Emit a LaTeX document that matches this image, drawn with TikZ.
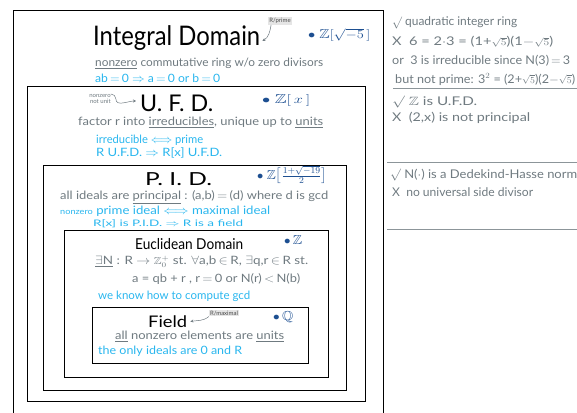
\documentclass[tikz,border=0pt]{standalone}
\usepackage{amssymb}
\usepackage{fontspec}
\setmainfont{Lato}
\usetikzlibrary{arrows.meta}
\definecolor{txtgray}{HTML}{6F7A80}
\definecolor{factcyan}{HTML}{29B6EE}
\definecolor{exblue}{HTML}{1D4F91}
\newcommand{\myul}[1]{\underline{#1}}
\newcommand{\fitto}[2]{\resizebox{#1pt}{\height}{#2}}
\newcommand{\sqf}{{\fontsize{9.5}{10}\selectfont$\sqrt{5}$}}
\tikzset{
  ringbox/.style={draw=black, line width=0.9pt},
  sep/.style={draw=txtgray!80, line width=0.8pt},
  bigtitle/.style={font=\fontsize{27}{30}\selectfont, text=black, anchor=west, inner sep=0pt},
  note/.style={font=\fontsize{11.5}{13}\selectfont, text=txtgray, anchor=west, inner sep=0pt},
  fact/.style={font=\fontsize{11.5}{13}\selectfont, text=factcyan, anchor=west, inner sep=0pt},
  example/.style={font=\fontsize{13}{15}\selectfont, text=exblue, anchor=west, inner sep=0pt},
  tag/.style={fill=gray!20, text=black!70, font=\fontsize{6}{7}\selectfont, inner sep=1pt},
  tiny/.style={font=\fontsize{6}{6.5}\selectfont, text=txtgray, align=right, inner sep=0pt},
  side/.style={font=\fontsize{12}{14}\selectfont, text=txtgray, anchor=west, inner sep=0pt},
  curly/.style={-{Stealth[length=3pt,width=3pt]}, draw=txtgray, line width=0.5pt},
}
\begin{document}
\begin{tikzpicture}[x=1pt,y=-1pt]
\useasboundingbox (0,0) rectangle (577,412);

% nested boxes
\draw[ringbox] (13,420) -- (13,10) -- (383,10) -- (383,420);
\draw[ringbox] (27,86) rectangle (365,401);
\draw[ringbox] (43,165) rectangle (346,390);
\draw[ringbox] (64,230) rectangle (328,377);
\draw[ringbox] (92,307) rectangle (308,363);

% right panel rules
\coordinate (r1a) at (393,88);  \coordinate (r1b) at (577,88);
\coordinate (r2a) at (387,162); \coordinate (r2b) at (577,162);
\coordinate (r3a) at (387,229); \coordinate (r3b) at (577,229);
\draw[sep] (r1a) -- (r1b);
\draw[sep] (r2a) -- (r2b);
\draw[sep] (r3a) -- (r3b);

% Integral domain
\node[bigtitle] (idt) at (93,38) {\fitto{167}{Integral Domain}};
\node[tag] (rp) at (280,21) {R/prime};
\draw[curly] ([xshift=3pt]rp.south west) to[out=260,in=30] ([xshift=2pt,yshift=-3pt]idt.east);
\node[example] (idx) at (308,35) {\fitto{62}{$\bullet\ \mathbb{Z}[\sqrt{-5}\,]$}};
\node[note] (idd) at (95,63) {\fitto{228}{\myul{nonzero} commutative ring w/o zero divisors}};
\node[fact] (idf) at (95,78) {\fitto{125}{ab$\,=\,$0 $\Rightarrow$ a$\,=\,$0 or b$\,=\,$0}};

% UFD
\node[tiny] (nz) at (100,99) {nonzero\\not unit};
\node[bigtitle, font=\fontsize{23}{26}\selectfont] (ufd) at (140,103) {\fitto{73}{U. F. D.}};
\draw[curly] (nz.north east) to[out=0,in=90] ([xshift=5pt]nz.east) to[out=-90,in=180] ([xshift=-4pt,yshift=2pt]ufd.west);
\node[example] (ufx) at (262,100) {\fitto{48}{$\bullet\ \mathbb{Z}[\,x\,]$}};
\node[note] (ufd1) at (78,122) {\fitto{245}{factor r into \myul{irreducibles}, unique up to \myul{units}}};
\node[fact] (uff1) at (96,140) {\fitto{107}{irreducible $\Longleftrightarrow$ prime}};
\node[fact] (uff2) at (96,153) {\fitto{126}{R U.F.D. $\Rightarrow$ R[x] U.F.D.}};

% PID
\node[bigtitle, font=\fontsize{18}{21}\selectfont] (pid) at (145,179) {\fitto{67}{P. I. D.}};
\node[example] (pix) at (257,175) {\fitto{70}{$\bullet\ \mathbb{Z}\Big[\frac{1+\sqrt{-19}}{2}\Big]$}};
\node[note] (pid1) at (60,197) {\fitto{268}{all ideals are \myul{principal} : (a,b)$\,=\,$(d) where d is gcd}};
\node[fact] (pif1) at (60,211) {\fitto{210}{{\fontsize{8}{9}\selectfont nonzero} prime ideal $\Longleftrightarrow$ maximal ideal}};
\node[fact, font=\fontsize{9}{10}\selectfont] (pif2) at (93,224) {\fitto{150}{R[x] is P.I.D. $\Rightarrow$ R is a field}};

% Euclidean
\node[bigtitle, font=\fontsize{15}{18}\selectfont] (eud) at (135,244) {\fitto{108}{Euclidean Domain}};
\node[example] (eux) at (284,240) {\fitto{18}{$\bullet\,\mathbb{Z}$}};
\node[note] (eu1) at (95,261.5) {\fitto{213}{\myul{$\exists$N} : R $\rightarrow$ {\fontsize{10}{10}\selectfont$\mathbb{Z}_0^+$} st. $\forall$a,b$\,\in\,$R, $\exists$q,r$\,\in\,$R st.}};
\node[note] (eu2) at (132,279) {\fitto{168}{a = qb + r , r$\,=\,$0 or N(r)$\,<\,$N(b)}};
\node[fact] (euf) at (98,296) {\fitto{152}{we know how to compute gcd}};

% Field
\node[bigtitle, font=\fontsize{16}{18}\selectfont] (fld) at (148,321.5) {\fitto{39}{Field}};
\node[tag] (rm) at (224,313) {R/maximal};
\draw[curly] (rm.south west) to[out=220,in=10] ([xshift=3pt]fld.east);
\node[example] (flx) at (273,317) {\fitto{20}{$\bullet\,\mathbb{Q}$}};
\node[note] (fl1) at (115,336) {\fitto{169}{\myul{all} nonzero elements are \myul{units}}};
\node[fact] (flf) at (98,351) {\fitto{144}{the only ideals are 0 and R}};

% right panel
\node[side] (s1) at (392,23) {\fitto{125}{$\surd$ quadratic integer ring}};
\node[side] (s2) at (392,42) {\fitto{161}{X\ \ 6 = 2$\cdot$3 = (1+\sqf)(1$-$\sqf)}};
\node[side] (s3) at (392,60.5) {\fitto{178}{or\ \ 3 is irreducible since N(3)$\,=\,$3}};
\node[side] (s4) at (395,79.5) {\fitto{180}{but not prime: 3$^2$ = (2+\sqf)(2$-$\sqf)}};
\node[side] (s5) at (392,102) {\fitto{85}{$\surd$ $\mathbb{Z}$ is U.F.D.}};
\node[side] (s6) at (392,118) {\fitto{138}{X\ \ (2,x) is not principal}};
\node[side] (s7) at (390,175) {\fitto{187}{$\surd$ N($\cdot$) is a Dedekind-Hasse norm}};
\node[side] (s8) at (392,192) {\fitto{141}{X\ \ no universal side divisor}};
\end{tikzpicture}
\end{document}
